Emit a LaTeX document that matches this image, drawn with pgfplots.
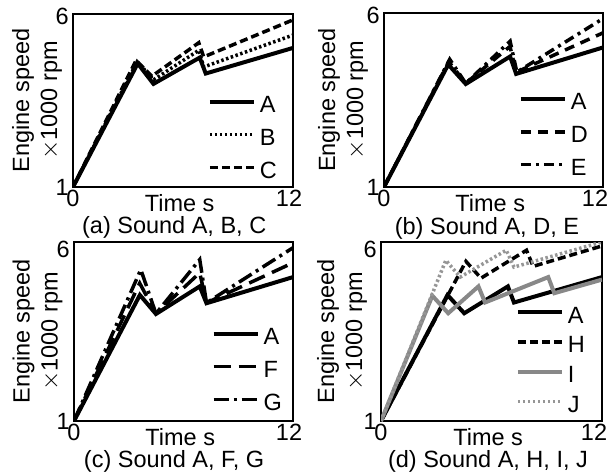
\documentclass[border=0pt]{standalone}
\usepackage{fontspec}
\setmainfont{Liberation Sans}
\usepackage{pgfplots}
\pgfplotsset{compat=1.18}

\definecolor{midgray}{RGB}{136,136,136}
\definecolor{ltgray}{RGB}{150,150,150}

\pgfplotsset{
  panel/.style={
    scale only axis,
    xmin=0, xmax=12, ymin=1, ymax=6,
    axis line style={line width=2pt},
    font=\fontsize{23.5}{28}\selectfont,
    /pgf/number format/assume math mode=true,
    xtick={0}, extra x ticks={12},
    ytick={1}, extra y ticks={6},
    major tick length=0pt,
    tick style={draw=none},
    xticklabel style={anchor=north, inner sep=0pt, yshift=-3pt},
    yticklabel style={anchor=east, inner sep=0pt, xshift=-4pt},
    xlabel={Time s},
    xlabel style={at={(axis description cs:0.485,0)}, anchor=north, inner sep=0pt, yshift=-7pt},
    ylabel={Engine speed\\$\times$1000 rpm},
    ylabel style={at={(axis description cs:0,0.5)}, anchor=center, align=center, inner sep=0pt},
    title style={anchor=north, inner sep=0pt},
    legend cell align=left,
    legend style={draw=none, fill=none, at={(rel axis cs:1,0)}, anchor=south east,
      inner sep=0pt, row sep=15pt, column sep=4pt, nodes={inner sep=0pt}},
    legend image code/.code={\draw[##1] (0pt,0.35em) -- (44pt,0.35em);},
    every axis plot/.append style={line width=3.5pt, line join=miter},
    solidA/.style={black, line width=4pt},
  }
}

\begin{document}
\begin{tikzpicture}
\useasboundingbox (0pt,0pt) rectangle (609pt,-474pt);

% (a)
\begin{axis}[panel, at={(73pt,-187pt)}, anchor=south west, width=220pt, height=173pt,
  ylabel style={yshift=36pt},
  extra y tick style={yticklabel style={yshift=-2pt}},
  extra x tick style={xticklabel style={xshift=-4pt}},
  title={(a) Sound A, B, C},
  title style={at={(axis description cs:0.46,0)}, yshift=-35pt},
  legend style={xshift=-16pt, yshift=7pt}]
\addplot[solidA] coordinates {(0,1) (3.53,4.57) (4.39,3.98) (6.91,4.74) (7.24,4.28) (12,5.02)};
\addplot[black, dash pattern=on 2.5pt off 2.5pt] coordinates {(0,1) (3.5,4.62) (4.4,4.1) (6.86,4.95) (7.13,4.47) (12,5.39)};
\addplot[black, dash pattern=on 8pt off 4pt] coordinates {(0,1) (3.44,4.66) (4.3,4.2) (6.86,5.17) (7.13,4.76) (12,5.83)};
\legend{A,B,C}
\end{axis}

% (b)
\begin{axis}[panel, at={(384pt,-187pt)}, anchor=south west, width=219pt, height=174pt,
  ylabel style={yshift=41pt},
  extra y tick style={yticklabel style={yshift=-2pt}},
  extra x tick style={xticklabel style={xshift=-8pt}},
  title={(b) Sound A, D, E},
  title style={at={(axis description cs:0.47,0)}, yshift=-36pt},
  legend style={xshift=-15pt, yshift=10pt}]
\addplot[solidA] coordinates {(0,1) (3.52,4.52) (4.48,3.96) (6.91,4.75) (7.24,4.25) (12,5.01)};
\addplot[black, dash pattern=on 10pt off 7pt] coordinates {(0,1) (3.55,4.6) (4.48,3.98) (6.9,5.04) (7.25,4.3) (12,5.43)};
\addplot[black, dash pattern=on 10pt off 5pt on 3pt off 5pt] coordinates {(0,1) (3.6,4.67) (4.48,3.98) (6.91,5.19) (7.28,4.3) (12,5.84)};
\legend{A,D,E}
\end{axis}

% (c)
\begin{axis}[panel, at={(74pt,-421pt)}, anchor=south west, width=219pt, height=179pt,
  ylabel style={yshift=36.5pt},
  extra y tick style={yticklabel style={anchor=north east, yshift=1pt}},
  extra x tick style={xticklabel style={xshift=-4pt}},
  title={(c) Sound A, F, G},
  title style={at={(axis description cs:0.457,0)}, yshift=-35pt},
  legend style={xshift=-11pt, yshift=9pt}]
\addplot[solidA] coordinates {(0,1) (3.61,4.52) (4.49,3.99) (6.89,4.76) (7.26,4.29) (12,5.02)};
\addplot[black, dash pattern=on 17pt off 8pt] coordinates {(0,1) (3.6,4.85) (4.49,4.0) (6.89,5.14) (7.26,4.3) (12,5.42)};
\addplot[black, dash pattern=on 15pt off 5pt on 3pt off 5pt] coordinates {(0,1) (3.66,5.23) (4.49,4.0) (6.89,5.51) (7.26,4.3) (12,5.84)};
\legend{A,F,G}
\end{axis}

% (d)
\begin{axis}[panel, at={(381pt,-421pt)}, anchor=south west, width=221pt, height=179pt,
  ylabel style={yshift=39pt},
  extra y tick style={yticklabel style={anchor=north east, yshift=1pt}},
  extra x tick style={xticklabel style={xshift=-8pt}},
  title={(d) Sound A, H, I, J},
  title style={at={(axis description cs:0.484,0)}, yshift=-35pt},
  legend style={xshift=-17pt, yshift=7pt, row sep=12pt}]
\addplot[solidA] coordinates {(0,1) (3.61,4.52) (4.52,4.01) (6.89,4.76) (7.22,4.31) (12,5.02)};
\addplot[black, dash pattern=on 8pt off 4pt] coordinates {(0,1) (4.61,5.46) (5.43,4.99) (7.9,5.77) (8.26,5.32) (12,5.89)};
\addplot[midgray, line width=4pt] coordinates {(0,1) (2.79,4.5) (3.65,4.01) (5.29,4.76) (5.65,4.31) (9.08,5.02) (9.41,4.57) (12,4.95)};
\addplot[ltgray, dash pattern=on 2.5pt off 2.5pt] coordinates {(0,1) (3.52,5.49) (4.3,5.02) (6.8,5.77) (7.22,5.3) (12,6.0)};
\legend{A,H,I,J}
\end{axis}
\end{tikzpicture}
\end{document}
